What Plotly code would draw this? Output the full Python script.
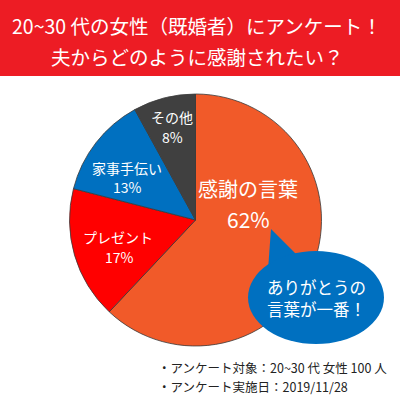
import plotly.graph_objects as go

# ---- data ----
categories = ["感謝の言葉", "プレゼント", "家事手伝い", "その他"]
values = [62, 17, 13, 8]
colors = ["#F15A29", "#FF0000", "#0070C0", "#404040"]

title_lines = ["20~30 代の女性（既婚者）にアンケート！", "夫からどのように感謝されたい？"]
callout_lines = ["ありがとうの", "言葉が一番！"]
footer_lines = ["・アンケート対象：20~30 代 女性 100 人", "・アンケート実施日：2019/11/28"]

W = H = 400
FONT = "Noto Sans CJK JP"


def px(x):
    return x / W


def py(y):
    return 1 - y / H


fig = go.Figure()
fig.add_trace(go.Pie(
    labels=categories,
    values=values,
    sort=False,
    direction="clockwise",
    rotation=0,
    marker=dict(colors=colors, line=dict(color="#3a3a3a", width=0.8)),
    textinfo="none",
    hoverinfo="label+percent",
    showlegend=False,
    domain=dict(x=[px(69), px(322)], y=[py(346), py(94)]),
))

shapes = [
    # header band
    dict(type="rect", xref="paper", yref="paper", x0=0, x1=1, y0=py(76), y1=1,
         fillcolor="#ED1C24", line=dict(width=0), layer="below"),
    # callout tail
    dict(type="path", xref="paper", yref="paper",
         path=f"M {px(271)} {py(229)} L {px(268)} {py(270)} L {px(298)} {py(256)} Z",
         fillcolor="#0070C0", line=dict(width=0), layer="above"),
    # callout ellipse
    dict(type="circle", xref="paper", yref="paper",
         x0=px(248), x1=px(384), y0=py(344), y1=py(251),
         fillcolor="#0070C0", line=dict(width=0), layer="above"),
]

annotations = []


def add_text(t, x, y, size, color="white", anchor="center"):
    annotations.append(dict(text=t, x=px(x), y=py(y), xref="paper", yref="paper",
                            showarrow=False, xanchor=anchor, yanchor="middle",
                            borderpad=0,
                            font=dict(family=FONT, size=size, color=color)))


# title
for t, y in zip(title_lines, [25, 57]):
    add_text(t, 197, y, 19.5)

# slice labels
label_pos = {
    0: ((248, 188, 20), (248, 219, 21)),
    1: ((118, 237, 14), (119, 257, 14)),
    2: ((127, 168, 14), (127, 187, 14)),
    3: ((172, 117, 14), (172, 137, 14)),
}
for i, cat in enumerate(categories):
    (x1, y1, s1), (x2, y2, s2) = label_pos[i]
    add_text(cat, x1, y1, s1)
    add_text(f"{values[i]}%", x2, y2, s2)

# callout text
for t, y in zip(callout_lines, [287, 309]):
    add_text(t, 316, y, 16.5)

# footer
for t, y in zip(footer_lines, [367, 386]):
    add_text(t, 157, y, 12.5, color="#222222", anchor="left")

fig.update_layout(
    width=W, height=H,
    margin=dict(l=0, r=0, t=0, b=0),
    paper_bgcolor="white",
    plot_bgcolor="white",
    shapes=shapes,
    annotations=annotations,
    font=dict(family=FONT),
)

fig.write_html(
    "out.html",
    config={"displayModeBar": False},
    post_script="document.body.style.margin='0';document.body.style.padding='0';"
                "document.body.style.overflow='hidden';",
)
